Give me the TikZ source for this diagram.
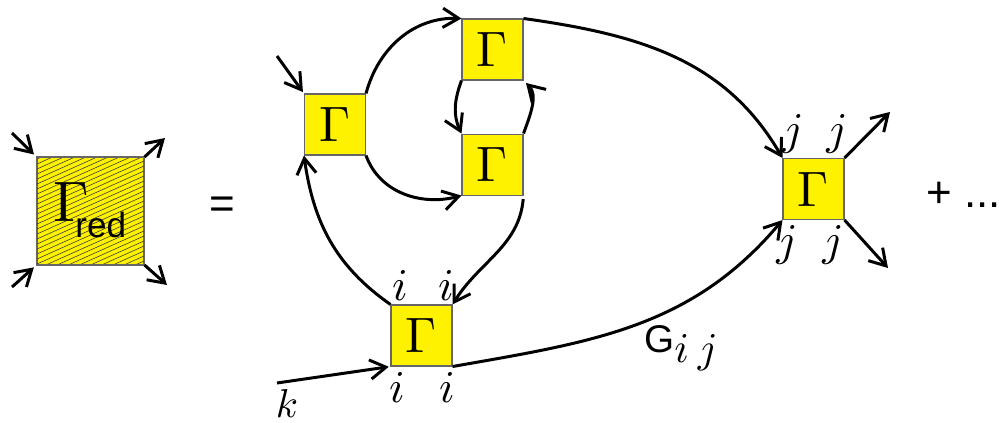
\documentclass[tikz,border=0pt]{standalone}
\usepackage{fontspec}
\newfontfamily\helv{Liberation Sans}
\usetikzlibrary{arrows.meta, positioning}
\newcommand{\vtxG}{\resizebox{!}{0.68cm}{$\Gamma$}}
\newcommand{\idx}[1]{\resizebox{!}{0.6cm}{$#1$}}

\begin{document}
\begin{tikzpicture}[x=0.02cm, y=-0.02cm, >={Straight Barb[length=9pt,width=11pt]},
        gbox/.style={rectangle, draw=black!60, fill=yellow, line width=0.6pt, minimum size=1.22cm, inner sep=0pt},
        lbl/.style={inner sep=0pt},
        arrow/.style={->, line width=1.7pt, black}]

        \useasboundingbox (0,0) rectangle (1002,423);

        % reduced vertex, hatched
        \node[gbox, minimum size=2.14cm] (red) at (90.5,211) {};
        \begin{scope}
            \clip (red.south west) rectangle (red.north east);
            \foreach \c in {159,164,...,314}
                \draw[black!75, line width=0.35pt] (37,\c) -- (144,\c-48);
        \end{scope}
        \draw[black!60, line width=0.6pt] (red.south west) rectangle (red.north east);
        \node[inner sep=0pt] (redlbl) at (90,210) {\resizebox{!}{0.78cm}{$\Gamma$}\kern-8pt\raisebox{-9pt}{\helv\fontsize{20}{24}\selectfont red}};

        \coordinate (rin1) at (12,133);
        \coordinate (rin2) at (12,287);
        \coordinate (rout1) at (165,138);
        \coordinate (rout2) at (167,285);
        \draw[arrow, shorten >=2pt] (rin1) -- (red.north west);
        \draw[arrow, shorten >=2pt] (rin2) -- (red.south west);
        \draw[arrow] (red.north east) -- (rout1);
        \draw[arrow] (red.south east) -- (rout2);

        \node[font=\helv\fontsize{25}{30}\selectfont, inner sep=0pt] (eq) at (222,208) {=};

        % vertices
        \node[gbox] (g1) at (335,124.5) {\vtxG};
        \node[gbox] (g2) at (492.5,49.5) {\vtxG};
        \node[gbox, below=1.06cm of g2] (g3) {\vtxG};
        \node[gbox] (g4) at (421.5,335.5) {\vtxG};
        \node[gbox] (g5) at (813.5,189) {\vtxG};

        % index labels
        \node[lbl] (i1) at (400,285) {\idx{i}};
        \node[lbl] (i2) at (446,285) {\idx{i}};
        \node[lbl] (i3) at (397,387) {\idx{i}};
        \node[lbl] (i4) at (447,387) {\idx{i}};
        \node[lbl] (j1) at (793,134) {\idx{j}};
        \node[lbl] (j2) at (837,134) {\idx{j}};
        \node[lbl] (j3) at (787,245) {\idx{j}};
        \node[lbl] (j4) at (833,245) {\idx{j}};
        \node[lbl] (k) at (287,403) {\resizebox{!}{0.56cm}{$k$}};
        \node[anchor=base west, inner sep=0pt] (gij) at (644,352) {{\helv\fontsize{22}{26}\selectfont G}\raisebox{-0.22cm}{\resizebox{!}{0.56cm}{$i$}\kern5pt\resizebox{!}{0.56cm}{$j$}}};
        \node[anchor=base west, inner sep=0pt, font=\helv\fontsize{25}{30}\selectfont] (dots) at (926,207) {+ ...};

        % lines
        \coordinate (g1in) at (277,56);
        \coordinate (kin) at (277,383);
        \coordinate (jout1) at (890,112);
        \coordinate (jout2) at (888,268);
        \draw[arrow, shorten >=1pt] (g1in) -- (g1.north west);
        \draw[arrow, shorten >=1pt] (kin) -- (g4.south west);
        \draw[arrow] (g1.north east) to[out=75, in=178] (g2.north west);
        \draw[arrow] (g1.south east) to[out=-70, in=195] (g3.south west);
        \draw[arrow] (g2.south west) to[out=250, in=115] (g3.north west);
        \draw[arrow, shorten >=2pt] (g3.north east) to[out=70, in=-45] (g2.south east);
        \draw[arrow, shorten <=2pt] (g3.south east) to[out=-95, in=58] (g4.north east);
        \draw[arrow] (g4.north west) to[out=145, in=-82] (g1.south west);
        \draw[arrow] (g4.south east) to[out=10, in=230] (g5.south west);
        \draw[arrow] (g2.north east) to[out=-8, in=120] (g5.north west);
        \draw[arrow] (g5.north east) -- (jout1);
        \draw[arrow] (g5.south east) -- (jout2);
    \end{tikzpicture}
\end{document}
